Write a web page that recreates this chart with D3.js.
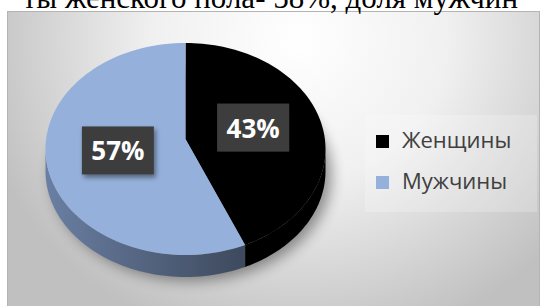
<!DOCTYPE html>
<html>
<head>
<meta charset="utf-8">
<script src="https://cdn.jsdelivr.net/npm/d3@7"></script>
<style>
  body { margin: 0; background: #fff; }
  svg { display: block; }
</style>
</head>
<body>
<div id="canvas"></div>
<script>
// chart data
var categories = ['Женщины', 'Мужчины'];
var values = [43, 57];
var labels = ['43%', '57%'];
var caption = 'ты женского пола- 58%, доля мужчин';

var COLORS = ['#000000', '#95b1db'];
var SIDE_COLORS = [['#000000', '#000000'], ['#6a7fa3', '#3b4659']];

var W = 547, H = 306;
var CX = 185.5, CY = 149, RX = 140, RY = 106, DEPTH = 22;
var VY = 139; // apex of the slices (perspective moves it up a bit)

var svg = d3.select('#canvas').append('svg')
    .attr('width', W)
    .attr('height', H);

var defs = svg.append('defs');

var bg = defs.append('radialGradient')
    .attr('id', 'bg')
    .attr('gradientUnits', 'userSpaceOnUse')
    .attr('cx', 300).attr('cy', 40).attr('r', 330)
    .attr('gradientTransform', 'translate(300,40) scale(1,0.95) translate(-300,-40)');
bg.append('stop').attr('offset', 0).attr('stop-color', '#ffffff');
bg.append('stop').attr('offset', 0.45).attr('stop-color', '#f0f0f0');
bg.append('stop').attr('offset', 1).attr('stop-color', '#c0c0c0');

var blur = defs.append('filter').attr('id', 'blur')
    .attr('x', '-30%').attr('y', '-30%').attr('width', '160%').attr('height', '160%');
blur.append('feGaussianBlur').attr('stdDeviation', 7);

var boxShadow = defs.append('filter').attr('id', 'boxshadow')
    .attr('x', '-20%').attr('y', '-20%').attr('width', '150%').attr('height', '160%');
boxShadow.append('feDropShadow')
    .attr('dx', 2).attr('dy', 3).attr('stdDeviation', 2.5)
    .attr('flood-color', '#000').attr('flood-opacity', 0.45);

SIDE_COLORS.forEach(function(c, i) {
    var g = defs.append('linearGradient')
        .attr('id', 'side' + i)
        .attr('gradientUnits', 'userSpaceOnUse')
        .attr('x1', CX - RX).attr('y1', 0)
        .attr('x2', CX + RX * 0.5).attr('y2', 0);
    g.append('stop').attr('offset', 0).attr('stop-color', c[0]);
    g.append('stop').attr('offset', 1).attr('stop-color', c[1]);
});

// chart area
svg.append('rect')
    .attr('x', 7.5).attr('y', 11.5)
    .attr('width', 532).attr('height', 300)
    .attr('fill', 'url(#bg)')
    .attr('stroke', '#b4b4b4');

// sentence above the chart, cut off by the top edge as in the source
svg.append('text')
    .attr('x', 518)
    .attr('y', 8)
    .attr('text-anchor', 'end')
    .style('font-family', '"Liberation Serif", "Times New Roman", serif')
    .style('font-size', '31px')
    .attr('fill', '#000')
    .text(caption);

function pt(a, dy) {
    return [CX + RX * Math.sin(a), CY - RY * Math.cos(a) + (dy || 0)];
}

var pie = d3.pie().sort(null).value(function(d) { return d; });
var arcs = pie(values);

// shadow under the pie
svg.append('ellipse')
    .attr('cx', CX + 6).attr('cy', CY + DEPTH + 4)
    .attr('rx', RX).attr('ry', RY)
    .attr('fill', '#000')
    .attr('opacity', 0.4)
    .attr('filter', 'url(#blur)');

// side walls (front half only: angles between PI/2 and 3PI/2)
arcs.forEach(function(d, i) {
    var a0 = Math.max(d.startAngle, Math.PI / 2);
    var a1 = Math.min(d.endAngle, 3 * Math.PI / 2);
    if (a1 <= a0) return;
    var n = 60, k, p = d3.path(), q;
    q = pt(a0); p.moveTo(q[0], q[1]);
    for (k = 1; k <= n; ++k) { q = pt(a0 + (a1 - a0) * k / n); p.lineTo(q[0], q[1]); }
    for (k = n; k >= 0; --k) { q = pt(a0 + (a1 - a0) * k / n, DEPTH); p.lineTo(q[0], q[1]); }
    p.closePath();
    svg.append('path')
        .attr('d', p.toString())
        .attr('fill', 'url(#side' + i + ')');
});

// top faces
arcs.forEach(function(d, i) {
    var n = 90, k, p = d3.path(), q;
    p.moveTo(CX, VY);
    for (k = 0; k <= n; ++k) {
        q = pt(d.startAngle + (d.endAngle - d.startAngle) * k / n);
        p.lineTo(q[0], q[1]);
    }
    p.closePath();
    svg.append('path')
        .attr('d', p.toString())
        .attr('fill', COLORS[i]);
});

// data labels
var lab = d3.arc().innerRadius(0).outerRadius(RX * 0.99);
arcs.forEach(function(d, i) {
    var c = lab.centroid(d);
    var x = CX + c[0], y = VY + c[1] * RY / RX;
    var g = svg.append('g').attr('transform', 'translate(' + x + ',' + y + ')');
    g.append('rect')
        .attr('x', -36).attr('y', -24)
        .attr('width', 72).attr('height', 48)
        .attr('fill', '#3e3e3e')
        .attr('filter', 'url(#boxshadow)');
    g.append('text')
        .attr('y', 10)
        .attr('text-anchor', 'middle')
        .attr('fill', '#fff')
        .style('font-family', '"Open Sans", sans-serif')
        .style('font-weight', 'bold')
        .style('font-size', '26px')
        .text(labels[i]);
});

// legend
svg.append('rect')
    .attr('x', 365).attr('y', 115)
    .attr('width', 172).attr('height', 97)
    .attr('fill', '#ffffff')
    .attr('opacity', 0.22);

var leg = svg.selectAll('.leg')
    .data(categories)
    .enter()
    .append('g')
    .attr('class', 'leg')
    .attr('transform', function(d, i) { return 'translate(376,' + (135 + i * 41) + ')'; });

leg.append('rect')
    .attr('width', 13).attr('height', 13)
    .attr('fill', function(d, i) { return COLORS[i]; });

leg.append('text')
    .attr('x', 26)
    .attr('y', 13)
    .attr('fill', '#404040')
    .style('font-family', '"Open Sans", sans-serif')
    .style('font-size', '22px')
    .text(function(d) { return d; });
</script>
</body>
</html>
